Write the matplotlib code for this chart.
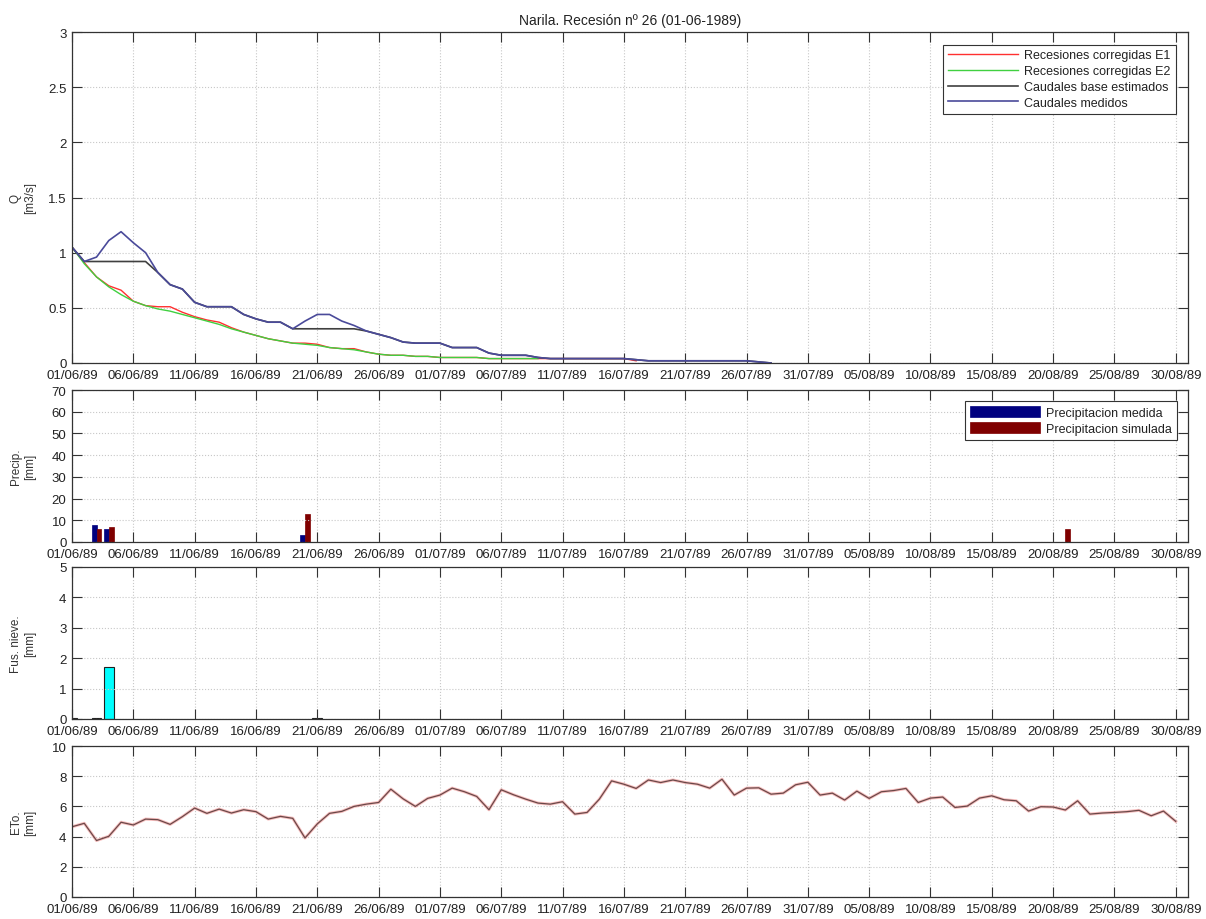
import datetime
import matplotlib
matplotlib.use('Agg')
import matplotlib.dates as mdates
import matplotlib.ticker as mticker
import numpy as np
from matplotlib import pyplot as plt

plt.rcParams['font.family'] = ['Liberation Sans', 'DejaVu Sans']
plt.rcParams['text.color'] = '#222222'
plt.rcParams['axes.labelcolor'] = '#333333'

start = datetime.date(1989, 6, 1)

# Caudales (m3/s), one value per day from 01/06/89
q_measured = [1.05, 0.92, 0.96, 1.11, 1.19, 1.09, 1.00, 0.82, 0.71, 0.67,
              0.55, 0.51, 0.51, 0.51, 0.44, 0.40, 0.37, 0.37, 0.31, 0.38,
              0.44, 0.44, 0.38, 0.34, 0.29, 0.26, 0.23, 0.19, 0.18, 0.18,
              0.18, 0.14, 0.14, 0.14, 0.09, 0.07, 0.07, 0.07, 0.05, 0.04,
              0.04, 0.04, 0.04, 0.04, 0.04, 0.04, 0.03, 0.02, 0.02, 0.02,
              0.02, 0.02, 0.02, 0.02, 0.02, 0.02, 0.01, 0.0]
q_base = [1.05, 0.92, 0.92, 0.92, 0.92, 0.92, 0.92, 0.82, 0.71, 0.67,
          0.55, 0.51, 0.51, 0.51, 0.44, 0.40, 0.37, 0.37, 0.31, 0.31,
          0.31, 0.31, 0.31, 0.31, 0.29, 0.26, 0.23, 0.19, 0.18, 0.18,
          0.18, 0.14, 0.14, 0.14, 0.09, 0.07, 0.07, 0.07, 0.05, 0.04,
          0.04, 0.04, 0.04, 0.04, 0.04, 0.04, 0.03, 0.02, 0.02, 0.02,
          0.02, 0.02, 0.02, 0.02, 0.02, 0.02, 0.01, 0.0]
q_rec_e1 = [1.05, 0.91, 0.78, 0.70, 0.66, 0.56, 0.52, 0.51, 0.51, 0.46,
            0.42, 0.39, 0.37, 0.32, 0.28, 0.25, 0.22, 0.20, 0.18, 0.18,
            0.17, 0.14, 0.13, 0.13, 0.10, 0.08, 0.07, 0.07, 0.06, 0.06,
            0.05, 0.05, 0.05, 0.05, 0.04, 0.04, 0.04, 0.04, 0.04, 0.04,
            0.04, 0.04, 0.04, 0.04, 0.04, 0.04, 0.02]
q_rec_e2 = [1.05, 0.90, 0.78, 0.69, 0.62, 0.56, 0.52, 0.49, 0.47, 0.44,
            0.41, 0.38, 0.35, 0.31, 0.28, 0.25, 0.22, 0.20, 0.18, 0.17,
            0.16, 0.14, 0.13, 0.12, 0.10, 0.08, 0.07, 0.07, 0.06, 0.06,
            0.05, 0.05, 0.05, 0.05, 0.04, 0.04, 0.04, 0.04, 0.04]

# Precipitacion (mm): day offset, medida, simulada
precip_days = [2, 3, 19, 81]
precip_measured = [8.0, 6.0, 3.0, 0.0]
precip_simulated = [6.0, 7.0, 13.0, 6.0]

# Fusion de nieve (mm)
snow_days = [0, 2, 3, 20]
snow_melt = [0.03, 0.03, 1.7, 0.02]

# ETo (mm), days 0..90
eto = [4.65, 4.88, 3.74, 4.02, 4.95, 4.77, 5.16, 5.12, 4.81, 5.32,
       5.89, 5.54, 5.82, 5.56, 5.78, 5.65, 5.16, 5.34, 5.21, 3.91,
       4.84, 5.54, 5.67, 6.00, 6.15, 6.26, 7.14, 6.50, 6.00, 6.53,
       6.75, 7.21, 6.97, 6.66, 5.78, 7.10, 6.77, 6.48, 6.22, 6.15,
       6.31, 5.49, 5.60, 6.48, 7.69, 7.47, 7.19, 7.75, 7.58, 7.75,
       7.58, 7.47, 7.21, 7.80, 6.75, 7.21, 7.23, 6.81, 6.88, 7.43,
       7.60, 6.75, 6.88, 6.42, 7.01, 6.53, 6.97, 7.05, 7.19, 6.26,
       6.55, 6.62, 5.93, 6.02, 6.55, 6.70, 6.44, 6.37, 5.69, 5.98,
       5.96, 5.76, 6.37, 5.49, 5.56, 5.60, 5.65, 5.74, 5.38, 5.69,
       5.01]


def to_dates(days):
    return [mdates.date2num(start + datetime.timedelta(days=int(d))) for d in days]


def style_axis(ax, ymax, ystep, ylabel):
    ax.set_xlim(mdates.date2num(start), mdates.date2num(datetime.date(1989, 8, 31)))
    ax.set_ylim(0, ymax)
    ax.set_yticks(np.arange(0, ymax + ystep / 2, ystep))
    ax.yaxis.set_major_formatter(mticker.FuncFormatter(lambda v, p: '%g' % v))
    ticks = [start + datetime.timedelta(days=5 * i) for i in range(19)]
    ax.set_xticks(mdates.date2num(ticks))
    ax.xaxis.set_major_formatter(mdates.DateFormatter('%d/%m/%y'))
    ax.tick_params(direction='in', length=7, width=0.8, top=True, right=True,
                   labelsize=9.5, colors='#333333', labelcolor='#222222', pad=4)
    ax.grid(True, linestyle=':', color='#c8c8c8', linewidth=0.8)
    for sp in ax.spines.values():
        sp.set_color('#333333')
        sp.set_linewidth(0.9)
    ax.set_ylabel(ylabel, fontsize=8.5, linespacing=1.3)
    ax.yaxis.set_label_coords(-0.032, 0.5)


fig = plt.figure(figsize=(12.06, 9.2), dpi=100)
left, width = 72 / 1206, 1116 / 1206
ax_q = fig.add_axes([left, 1 - 364 / 920, width, 331 / 920])
ax_p = fig.add_axes([left, 1 - 543 / 920, width, 152 / 920])
ax_s = fig.add_axes([left, 1 - 720 / 920, width, 152 / 920])
ax_e = fig.add_axes([left, 1 - 898 / 920, width, 151 / 920])

# Caudales
ax_q.plot(to_dates(range(len(q_rec_e1))), q_rec_e1, color='#ff3030', lw=1.0,
          label='Recesiones corregidas E1')
ax_q.plot(to_dates(range(len(q_rec_e2))), q_rec_e2, color='#40d040', lw=1.0,
          label='Recesiones corregidas E2')
ax_q.plot(to_dates(range(len(q_base))), q_base, color='#404040', lw=1.2,
          label='Caudales base estimados')
ax_q.plot(to_dates(range(len(q_measured))), q_measured, color='#4a4a9a', lw=1.2,
          label='Caudales medidos')
style_axis(ax_q, 3, 0.5, 'Q\n[m3/s]')
ax_q.set_title('Narila. Recesión nº 26 (01-06-1989)', fontsize=10, pad=6)
leg = ax_q.legend(loc='upper right', fontsize=9, handlelength=5.6, fancybox=False,
                  framealpha=1, edgecolor='#333333', borderaxespad=1.0,
                  labelspacing=0.3, handletextpad=0.5)
leg.get_frame().set_linewidth(0.8)

# Precipitacion
px = np.array(to_dates(precip_days))
ax_p.bar(px - 0.2, precip_measured, width=0.4, color='#00007f', edgecolor='#00007f',
         linewidth=0.5, label='Precipitacion medida')
ax_p.bar(px + 0.2, precip_simulated, width=0.4, color='#7f0000', edgecolor='#7f0000',
         linewidth=0.5, label='Precipitacion simulada')
style_axis(ax_p, 70, 10, 'Precip.\n[mm]')
leg = ax_p.legend(loc='upper right', fontsize=9, handlelength=5.6, handleheight=1.0,
                  fancybox=False, framealpha=1, edgecolor='#333333',
                  borderaxespad=0.9, labelspacing=0.25, handletextpad=0.5)
leg.get_frame().set_linewidth(0.8)

# Fusion de nieve
ax_s.bar(to_dates(snow_days), snow_melt, width=0.8, color='#00ffff',
         edgecolor='#202020', linewidth=0.8)
style_axis(ax_s, 5, 1, 'Fus. nieve.\n[mm]')

# ETo
ax_e.plot(to_dates(range(len(eto))), eto, color='#f08080', lw=2.2, alpha=0.5)
ax_e.plot(to_dates(range(len(eto))), eto, color='#6a4848', lw=0.9)
style_axis(ax_e, 10, 2, 'ETo.\n[mm]')

fig.savefig('out.png', dpi=100)
